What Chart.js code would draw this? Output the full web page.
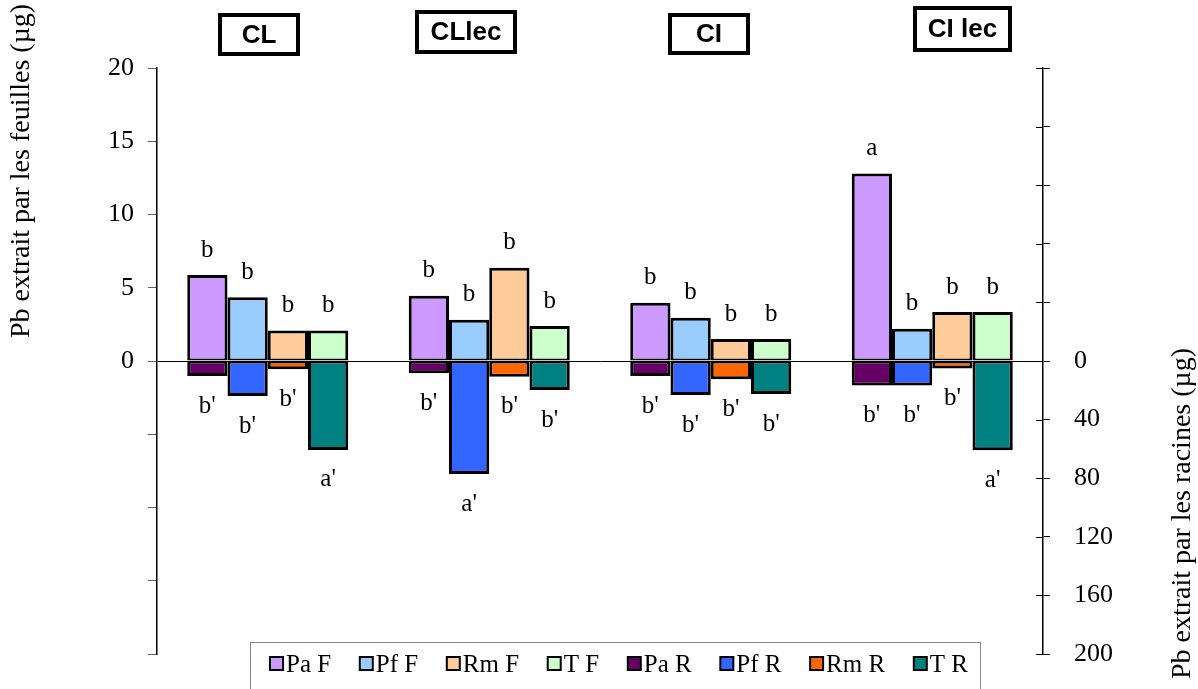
<!DOCTYPE html>
<html>
<head>
<meta charset="utf-8">
<style>
  html, body { margin: 0; padding: 0; background: #fff; }
  #wrap { width: 1198px; height: 689px; position: relative; }
</style>
<script src="https://cdn.jsdelivr.net/npm/chart.js@4.4.0/dist/chart.umd.min.js"></script>
</head>
<body>
<div id="wrap"><canvas id="chart" width="1198" height="689"></canvas></div>
<script>
// treatments (x categories)
const groups = ['CL', 'CLlec', 'CI', 'CI lec'];
const species = ['Pa', 'Pf', 'Rm', 'T'];

// Pb extracted by leaves (µg) - left axis
const paF = [5.87, 4.45, 3.98, 12.8];
const pfF = [4.35, 2.82, 2.95, 2.2];
const rmF = [2.09, 6.37, 1.5, 3.34];
const tF  = [2.09, 2.39, 1.5, 3.34];

// Pb extracted by roots (µg) - right axis, drawn downward
const paR = [10.2, 8.4, 10.2, 16.8];
const pfR = [23.9, 77.1, 23.2, 16.8];
const rmR = [5.7, 10.7, 12.5, 5.2];
const tR  = [60.7, 19.8, 22.5, 60.9];

// significance letters
const paFL = ['b', 'b', 'b', 'a'];
const pfFL = ['b', 'b', 'b', 'b'];
const rmFL = ['b', 'b', 'b', 'b'];
const tFL  = ['b', 'b', 'b', 'b'];
const paRL = ["b'", "b'", "b'", "b'"];
const pfRL = ["b'", "a'", "b'", "b'"];
const rmRL = ["b'", "b'", "b'", "b'"];
const tRL  = ["a'", "b'", "b'", "a'"];

// tick labels
const leftTicks = [0, 5, 10, 15, 20];
const rightTicks = [0, 40, 80, 120, 160, 200];

const serif = "'Liberation Serif', 'Times New Roman', serif";

function mk(label, data, letters, color, axis, stack) {
  const leaf = axis === 'y';
  return {
    label: label, data: data, letters: letters,
    backgroundColor: color, borderColor: '#000',
    borderWidth: leaf ? {top: 3, left: 3, right: 3, bottom: 2} : {top: 2, left: 3, right: 3, bottom: 3},
    borderSkipped: false,
    yAxisID: axis, stack: stack,
    barPercentage: 1.0, categoryPercentage: 0.727
  };
}

const datasets = [
  mk('Pa F', paF, paFL, '#CC99FF', 'y', 'Pa'),
  mk('Pf F', pfF, pfFL, '#99CCFF', 'y', 'Pf'),
  mk('Rm F', rmF, rmFL, '#FFCC99', 'y', 'Rm'),
  mk('T F',  tF,  tFL,  '#CCFFCC', 'y', 'T'),
  mk('Pa R', paR, paRL, '#660066', 'y2', 'Pa'),
  mk('Pf R', pfR, pfRL, '#3366FF', 'y2', 'Pf'),
  mk('Rm R', rmR, rmRL, '#FF6600', 'y2', 'Rm'),
  mk('T R',  tR,  tRL,  '#008080', 'y2', 'T')
];

// boxed treatment titles at top
const titleBoxes = [
  {x: 218, y: 13, w: 82, h: 43},
  {x: 415, y: 10, w: 102, h: 44},
  {x: 668, y: 13, w: 82, h: 42},
  {x: 913, y: 6, w: 99, h: 46}
];

const extras = {
  id: 'extras',
  afterDatasetsDraw(chart) {
    const ctx = chart.ctx;
    ctx.save();
    ctx.fillStyle = '#000';
    ctx.font = '25px ' + serif;
    ctx.textAlign = 'center';
    ctx.textBaseline = 'middle';
    chart.data.datasets.forEach((ds, i) => {
      const meta = chart.getDatasetMeta(i);
      meta.data.forEach((bar, j) => {
        const y = ds.yAxisID === 'y' ? bar.y - 25 : bar.y + 30;
        ctx.fillText(ds.letters[j], bar.x, y);
      });
    });
    // inner half of the right axis ticks
    const r = chart.scales.y2;
    ctx.strokeStyle = '#000';
    ctx.lineWidth = 1;
    r.ticks.forEach((t, k) => {
      const py = Math.round(r.getPixelForTick(k)) + 0.5;
      ctx.beginPath();
      ctx.moveTo(r.left - 7, py);
      ctx.lineTo(r.left, py);
      ctx.stroke();
    });
    ctx.restore();
  },
  afterDraw(chart) {
    const ctx = chart.ctx;
    ctx.save();
    // titles
    ctx.font = 'bold 26px "Liberation Sans", Arial, sans-serif';
    ctx.textAlign = 'center';
    ctx.textBaseline = 'middle';
    ctx.lineWidth = 4;
    ctx.strokeStyle = '#000';
    ctx.fillStyle = '#000';
    groups.forEach((g, i) => {
      const b = titleBoxes[i];
      ctx.strokeRect(b.x + 2, b.y + 2, b.w - 4, b.h - 4);
      ctx.fillText(g, b.x + b.w / 2, b.y + b.h / 2 + 1);
    });
    // axis titles
    ctx.font = '28px ' + serif;
    ctx.textAlign = 'left';
    ctx.save();
    ctx.translate(22, 338);
    ctx.rotate(-Math.PI / 2);
    ctx.fillText('Pb extrait par les feuilles (µg)', 0, 0);
    ctx.restore();
    ctx.save();
    ctx.translate(1183, 679);
    ctx.rotate(-Math.PI / 2);
    ctx.fillText('Pb extrait par les racines (µg)', 0, 0);
    ctx.restore();
    // legend
    ctx.lineWidth = 1;
    ctx.strokeStyle = '#888';
    ctx.strokeRect(250.5, 642.5, 730, 60);
    ctx.font = '25px ' + serif;
    ctx.textBaseline = 'middle';
    const ds = chart.data.datasets;
    const widths = ds.map(d => 13 + 3 + ctx.measureText(d.label).width);
    const total = widths.reduce((a, b) => a + b, 0);
    const gap = (968 - 270 - total) / (ds.length - 1);
    let x = 270;
    ds.forEach((d, i) => {
      ctx.fillStyle = d.backgroundColor;
      ctx.fillRect(x, 657, 13, 13);
      ctx.lineWidth = 2;
      ctx.strokeStyle = '#000';
      ctx.strokeRect(x, 657, 13, 13);
      ctx.fillStyle = '#000';
      ctx.fillText(d.label, x + 16, 665);
      x += widths[i] + gap;
    });
    ctx.restore();
  }
};

// fixed axis widths, no label overhang so the plot spans 68..654
function fitY(width) {
  return s => { s.width = width; s.paddingTop = 0; s.paddingBottom = 0; };
}

new Chart(document.getElementById('chart'), {
  type: 'bar',
  data: { labels: groups, datasets: datasets },
  options: {
    responsive: false,
    animation: false,
    layout: { padding: { left: 0, right: 0, top: 68, bottom: 35 } },
    plugins: { legend: { display: false }, tooltip: { enabled: false }, title: { display: false } },
    scales: {
      x: { display: false },
      y: {
        position: 'left', min: -20, max: 20,
        afterFit: fitY(157),
        ticks: {
          stepSize: 5, padding: 14, color: '#000',
          font: { family: serif, size: 26 },
          callback: v => leftTicks.includes(v) ? v : ''
        },
        grid: {
          drawOnChartArea: true, tickLength: 9, tickColor: '#666',
          color: c => (c.tick && c.tick.value === 0) ? '#000' : 'rgba(0,0,0,0)'
        },
        border: { color: '#000', width: 1.5 }
      },
      y2: {
        position: 'right', min: -200, max: 200, reverse: true,
        afterFit: fitY(155),
        ticks: {
          stepSize: 40, padding: 24, color: '#000',
          font: { family: serif, size: 26 },
          callback: v => rightTicks.includes(v) ? v : ''
        },
        grid: { drawOnChartArea: false, tickLength: 7, tickColor: '#000' },
        border: { color: '#000', width: 1.5 }
      }
    }
  },
  plugins: [extras]
});
</script>
</body>
</html>
